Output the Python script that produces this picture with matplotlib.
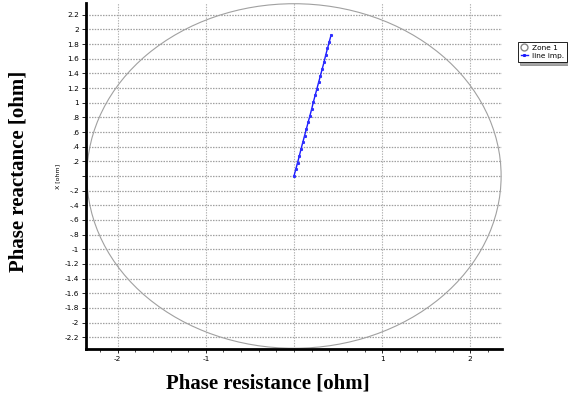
import matplotlib
matplotlib.use("Agg")
import matplotlib.pyplot as plt
from matplotlib.patches import Circle
import numpy as np

# Data
zone_center = (0.0, 0.0)
zone_radius = 2.35
line_r = [0.0, 0.02, 0.04, 0.06, 0.08, 0.10, 0.12, 0.14, 0.16, 0.18, 0.20,
          0.22, 0.24, 0.26, 0.28, 0.30, 0.32, 0.34, 0.36, 0.38, 0.40, 0.42]
line_x = [0.0, 0.09, 0.18, 0.27, 0.37, 0.46, 0.55, 0.64, 0.73, 0.82, 0.91,
          1.01, 1.10, 1.19, 1.28, 1.37, 1.46, 1.55, 1.65, 1.74, 1.83, 1.92]
yticks = [2.2, 2.0, 1.8, 1.6, 1.4, 1.2, 1.0, 0.8, 0.6, 0.4, 0.2, 0.0,
          -0.2, -0.4, -0.6, -0.8, -1.0, -1.2, -1.4, -1.6, -1.8, -2.0, -2.2]
ytick_labels = ["2.2", "2", "1.8", "1.6", "1.4", "1.2", "1", ".8", ".6", ".4", ".2", "",
                "-.2", "-.4", "-.6", "-.8", "-1", "-1.2", "-1.4", "-1.6", "-1.8", "-2", "-2.2"]
xticks = [-2, -1, 1, 2]
xtick_labels = ["-2", "-1", "1", "2"]

fig = plt.figure(figsize=(5.68, 3.99), dpi=100)
ax = fig.add_axes([0.1514, 0.1253, 0.7324, 0.8672])
ax.set_xlim(-2.36, 2.36)
ax.set_ylim(-2.36, 2.36)

# grid
for y in yticks:
    ax.axhline(y, color="#a0a0a0", lw=0.9, ls=(0, (1.2, 1.0)), zorder=0)
for x in [-2, -1, 0, 1, 2]:
    ax.axvline(x, color="#b0b0b0", lw=0.8, ls=(0, (1.2, 1.2)), zorder=0)

zone = Circle(zone_center, zone_radius, fill=False, ec="#a0a0a0", lw=0.8, zorder=2)
ax.add_patch(zone)
ax.plot(line_r, line_x, color="#1a1aff", lw=1.0, marker="s", ms=1.2, mec="#3030ff",
        mfc="#3030ff", zorder=3)

for s in ["top", "right"]:
    ax.spines[s].set_visible(False)
for s in ["left", "bottom"]:
    ax.spines[s].set_linewidth(2.0)
    ax.spines[s].set_color("black")

ax.set_yticks(yticks)
ax.set_yticklabels(ytick_labels)
ax.set_xticks(xticks)
ax.set_xticklabels(xtick_labels)
ax.set_xticks(np.arange(-2.2, 2.3, 0.2), minor=True)
ax.tick_params(axis="both", which="major", labelsize=5.3, length=3, width=0.6, pad=2)
ax.tick_params(axis="x", which="minor", length=2, width=0.5)
ax.tick_params(axis="y", which="minor", left=False)

ax.set_ylabel("X [ohm]", fontsize=4.5, labelpad=3)

fig.text(0.032, 0.57, "Phase reactance [ohm]", rotation=90, ha="center", va="center",
         fontsize=15, fontweight="bold", family="Liberation Serif")
fig.text(0.472, 0.038, "Phase resistance [ohm]", ha="center", va="center",
         fontsize=15, fontweight="bold", family="Liberation Serif")

# legend
h1 = ax.plot([], [], ls="none", marker="o", mfc="white", mec="#888888", ms=5, label="Zone 1")[0]
h2 = ax.plot([], [], color="#1a1aff", lw=1.0, marker="s", ms=1.2, label="line imp.")[0]
leg = fig.legend(handles=[h1, h2], loc="upper left", bbox_to_anchor=(0.905, 0.905),
                 fontsize=5.3, frameon=True, fancybox=False, shadow=True,
                 handlelength=1.0, handletextpad=0.5, borderpad=0.4, labelspacing=0.3)
leg.get_frame().set_edgecolor("black")
leg.get_frame().set_linewidth(0.6)

fig.savefig("out.png", dpi=100)
